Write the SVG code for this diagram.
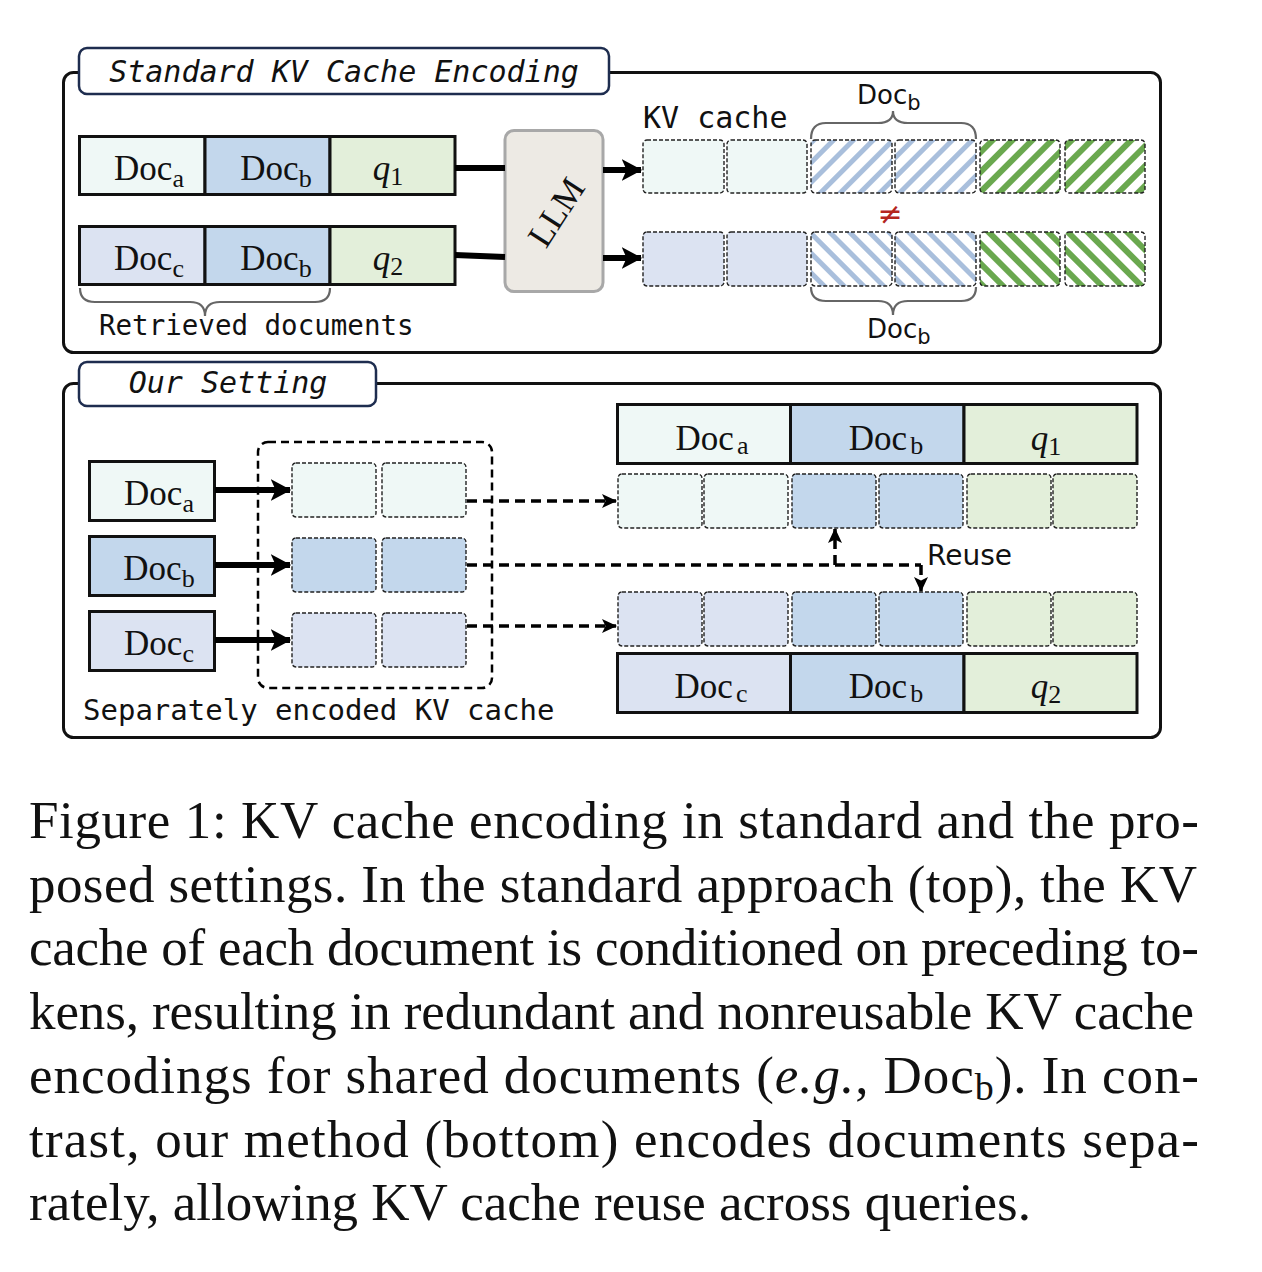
<svg xmlns="http://www.w3.org/2000/svg" width="1262" height="1272" viewBox="0 0 1262 1272">
<style>
.panel{fill:none;stroke:#111;stroke-width:3}
.title{fill:#fff;stroke:#1e2d4f;stroke-width:2.5}
.ttl{font-family:"DejaVu Sans Mono",monospace;font-style:oblique;font-size:30px;fill:#111;text-anchor:middle}
.mono{font-family:"DejaVu Sans Mono",monospace;fill:#111}
.sans{font-family:"DejaVu Sans",sans-serif;fill:#111}
.box{stroke:#111;stroke-width:3}
.doc{font-family:"Liberation Serif",serif;font-size:35px;fill:#111;text-anchor:middle}
.sub{font-size:26px}
.cell{stroke:#222;stroke-width:1.4;stroke-dasharray:4 2}
.fa{fill:#eff8f6}.fb{fill:#c3d7ec}.fc{fill:#dce3f2}.fq{fill:#e3efda}
.brace{fill:none;stroke:#666;stroke-width:2.2}
.thick{stroke:#000;stroke-width:6;fill:none}
.dash{stroke:#000;stroke-width:3.5;stroke-dasharray:10 6;fill:none}
.cap{font-family:"Liberation Serif",serif;font-size:53px;fill:#111}
</style>
<defs>
<pattern id="hbu" width="14" height="14" patternUnits="userSpaceOnUse" patternTransform="rotate(45)"><rect width="14" height="14" fill="#fff"/><rect width="5" height="14" fill="#a9bfdc"/></pattern>
<pattern id="hbd" width="14" height="14" patternUnits="userSpaceOnUse" patternTransform="rotate(-45)"><rect width="14" height="14" fill="#fff"/><rect width="5" height="14" fill="#a9bfdc"/></pattern>
<pattern id="hgu" width="14" height="14" patternUnits="userSpaceOnUse" patternTransform="rotate(45)"><rect width="14" height="14" fill="#fff"/><rect width="6" height="14" fill="#6aa84f"/></pattern>
<pattern id="hgd" width="14" height="14" patternUnits="userSpaceOnUse" patternTransform="rotate(-45)"><rect width="14" height="14" fill="#fff"/><rect width="6" height="14" fill="#6aa84f"/></pattern>
<marker id="ah" markerWidth="4" markerHeight="4" refX="3.2" refY="2" orient="auto" markerUnits="strokeWidth"><path d="M0,0.2 L3.4,2 L0,3.8 L0.8,2 Z" fill="#000"/></marker>
<marker id="ahs" markerWidth="5" markerHeight="5" refX="4" refY="2.5" orient="auto" markerUnits="strokeWidth"><path d="M0,0.5 L4.3,2.5 L0,4.5 L1,2.5 Z" fill="#000"/></marker>
</defs>

<!-- Top panel -->
<g id="panel-standard">
<rect class="panel" x="63.5" y="72.5" width="1097" height="280" rx="10"/>
</g>
<g id="title-standard">
<rect class="title" x="79" y="48" width="530" height="46" rx="8"/>
<text class="ttl" x="344" y="82">Standard KV Cache Encoding</text>
</g>

<g id="input-row1">
<rect class="box fa" x="79.5" y="136.5" width="125.5" height="58"/>
<rect class="box fb" x="205" y="136.5" width="125" height="58"/>
<rect class="box fq" x="330" y="136.5" width="125" height="58"/>
<text class="doc" x="149" y="180">Doc<tspan class="sub" dy="7">a</tspan></text>
<text class="doc" x="276" y="180">Doc<tspan class="sub" dy="7">b</tspan></text>
<text class="doc" x="388" y="180"><tspan font-style="italic">q</tspan><tspan class="sub" dy="5">1</tspan></text>
</g>
<g id="input-row2">
<rect class="box fc" x="79.5" y="226.5" width="125.5" height="58"/>
<rect class="box fb" x="205" y="226.5" width="125" height="58"/>
<rect class="box fq" x="330" y="226.5" width="125" height="58"/>
<text class="doc" x="149" y="270">Doc<tspan class="sub" dy="7">c</tspan></text>
<text class="doc" x="276" y="270">Doc<tspan class="sub" dy="7">b</tspan></text>
<text class="doc" x="388" y="270"><tspan font-style="italic">q</tspan><tspan class="sub" dy="5">2</tspan></text>
</g>
<g id="retrieved-brace">
<path class="brace" d="M80,288 Q80,302 95,302 L190,302 Q205,302 205,316 Q205,302 220,302 L315,302 Q330,302 330,288"/>
<text class="mono" x="99" y="335" font-size="27.5">Retrieved documents</text>
</g>

<g id="llm">
<rect x="505" y="130.5" width="98" height="161" rx="9" fill="#edeae4" stroke="#a8a8a8" stroke-width="3"/>
<text class="doc" font-size="39" transform="translate(556,212) rotate(-57)" y="12">LLM</text>
</g>

<g id="kv-label">
<text class="mono" x="643" y="128" font-size="30">KV cache</text>
</g>
<g id="kv-row1">
<rect class="cell fa" x="643" y="140" width="81" height="53" rx="4"/>
<rect class="cell fa" x="727" y="140" width="80" height="53" rx="4"/>
<rect class="cell" fill="url(#hbu)" x="811" y="140" width="81" height="53" rx="4"/>
<rect class="cell" fill="url(#hbu)" x="895" y="140" width="81" height="53" rx="4"/>
<rect class="cell" fill="url(#hgu)" x="980" y="140" width="80" height="53" rx="4"/>
<rect class="cell" fill="url(#hgu)" x="1065" y="140" width="80" height="53" rx="4"/>
</g>
<g id="kv-row2">
<rect class="cell fc" x="643" y="232" width="81" height="54" rx="4"/>
<rect class="cell fc" x="727" y="232" width="80" height="54" rx="4"/>
<rect class="cell" fill="url(#hbd)" x="811" y="232" width="81" height="54" rx="4"/>
<rect class="cell" fill="url(#hbd)" x="895" y="232" width="81" height="54" rx="4"/>
<rect class="cell" fill="url(#hgd)" x="980" y="232" width="80" height="54" rx="4"/>
<rect class="cell" fill="url(#hgd)" x="1065" y="232" width="80" height="54" rx="4"/>
</g>
<g id="docb-top">
<path class="brace" d="M811,139 Q811,123 826,123 L878,123 Q893,123 893,111 Q893,123 908,123 L961,123 Q976,123 976,139"/>
<text class="sans" x="857" y="104" font-size="26">Doc<tspan font-size="21" dy="6">b</tspan></text>
</g>
<g id="neq">
<text x="890" y="224" font-family="DejaVu Sans,sans-serif" font-size="30" fill="#b5261e" text-anchor="middle">≠</text>
</g>
<g id="docb-bottom">
<path class="brace" d="M811,287 Q811,301 826,301 L878,301 Q893,301 893,315 Q893,301 908,301 L961,301 Q976,301 976,287"/>
<text class="sans" x="867" y="338" font-size="26">Doc<tspan font-size="21" dy="6">b</tspan></text>
</g>

<!-- Bottom panel -->
<g id="panel-ours">
<rect class="panel" x="63.5" y="383.5" width="1097" height="354" rx="10"/>
</g>
<g id="title-ours">
<rect class="title" x="79" y="362" width="297" height="44" rx="8"/>
<text class="ttl" x="228" y="393">Our Setting</text>
</g>

<g id="src-docs">
<rect class="box fa" x="89.5" y="461.5" width="125" height="59"/>
<rect class="box fb" x="89.5" y="536.5" width="125" height="59"/>
<rect class="box fc" x="89.5" y="611.5" width="125" height="59"/>
<text class="doc" x="159" y="505">Doc<tspan class="sub" dy="7">a</tspan></text>
<text class="doc" x="159" y="580">Doc<tspan class="sub" dy="7">b</tspan></text>
<text class="doc" x="159" y="655">Doc<tspan class="sub" dy="7">c</tspan></text>
</g>
<g id="sep-cache">
<rect x="258" y="442" width="234" height="246" rx="10" fill="none" stroke="#000" stroke-width="2.5" stroke-dasharray="8 5"/>
<rect class="cell fa" x="292" y="463" width="84" height="54" rx="4"/>
<rect class="cell fa" x="382" y="463" width="84" height="54" rx="4"/>
<rect class="cell fb" x="292" y="538" width="84" height="54" rx="4"/>
<rect class="cell fb" x="382" y="538" width="84" height="54" rx="4"/>
<rect class="cell fc" x="292" y="613" width="84" height="54" rx="4"/>
<rect class="cell fc" x="382" y="613" width="84" height="54" rx="4"/>
<text class="mono" x="83" y="720" font-size="29">Separately encoded KV cache</text>
</g>

<g id="query1-seq">
<rect class="box fa" x="617.5" y="404.5" width="173" height="59"/>
<rect class="box fb" x="790.5" y="404.5" width="173.5" height="59"/>
<rect class="box fq" x="964" y="404.5" width="173" height="59"/>
<text class="doc" x="712" y="450">Doc<tspan class="sub" dx="3" dy="4">a</tspan></text>
<text class="doc" x="886" y="450">Doc<tspan class="sub" dx="3" dy="4">b</tspan></text>
<text class="doc" x="1046" y="450"><tspan font-style="italic">q</tspan><tspan class="sub" dy="5">1</tspan></text>
</g>
<g id="query1-kv">
<rect class="cell fa" x="618" y="474" width="84" height="54" rx="4"/>
<rect class="cell fa" x="704" y="474" width="84" height="54" rx="4"/>
<rect class="cell fb" x="792" y="474" width="84" height="54" rx="4"/>
<rect class="cell fb" x="879" y="474" width="84" height="54" rx="4"/>
<rect class="cell fq" x="967" y="474" width="84" height="54" rx="4"/>
<rect class="cell fq" x="1053" y="474" width="84" height="54" rx="4"/>
</g>
<g id="query2-kv">
<rect class="cell fc" x="618" y="592" width="84" height="54" rx="4"/>
<rect class="cell fc" x="704" y="592" width="84" height="54" rx="4"/>
<rect class="cell fb" x="792" y="592" width="84" height="54" rx="4"/>
<rect class="cell fb" x="879" y="592" width="84" height="54" rx="4"/>
<rect class="cell fq" x="967" y="592" width="84" height="54" rx="4"/>
<rect class="cell fq" x="1053" y="592" width="84" height="54" rx="4"/>
</g>
<g id="query2-seq">
<rect class="box fc" x="617.5" y="653.5" width="173" height="59"/>
<rect class="box fb" x="790.5" y="653.5" width="173.5" height="59"/>
<rect class="box fq" x="964" y="653.5" width="173" height="59"/>
<text class="doc" x="711" y="698">Doc<tspan class="sub" dx="3" dy="4">c</tspan></text>
<text class="doc" x="886" y="698">Doc<tspan class="sub" dx="3" dy="4">b</tspan></text>
<text class="doc" x="1046" y="698"><tspan font-style="italic">q</tspan><tspan class="sub" dy="5">2</tspan></text>
</g>
<g id="reuse-label">
<text class="sans" x="927" y="565" font-size="28">Reuse</text>
</g>

<!-- Connectors -->
<g id="connectors">
<path class="thick" stroke-width="7" d="M455,168 L505,168"/>
<path class="thick" stroke-width="7" d="M455,255 L505,257"/>
<path class="thick" d="M603,170 L641,170" marker-end="url(#ah)"/>
<path class="thick" d="M603,258 L641,258" marker-end="url(#ah)"/>
<path class="thick" stroke-width="5" d="M215,490 L290,490" marker-end="url(#ah)"/>
<path class="thick" stroke-width="5" d="M215,565 L290,565" marker-end="url(#ah)"/>
<path class="thick" stroke-width="5" d="M215,640 L290,640" marker-end="url(#ah)"/>
<path class="dash" d="M467,501 L616,501" marker-end="url(#ahs)"/>
<path class="dash" d="M467,626 L616,626" marker-end="url(#ahs)"/>
<path class="dash" d="M467,565 L921,565"/>
<path class="dash" stroke-dasharray="none" d="M835,565 L835,529" marker-end="url(#ahs)"/>
<path class="dash" stroke-dasharray="none" d="M921,565 L921,591" marker-end="url(#ahs)"/>
</g>

<!-- Caption -->
<g id="caption">
<text class="cap" x="29" y="838" textLength="1170" lengthAdjust="spacing">Figure 1: KV cache encoding in standard and the pro-</text>
<text class="cap" x="29" y="902" textLength="1168" lengthAdjust="spacing">posed settings. In the standard approach (top), the KV</text>
<text class="cap" x="29" y="965" textLength="1170" lengthAdjust="spacing">cache of each document is conditioned on preceding to-</text>
<text class="cap" x="29" y="1029" textLength="1165" lengthAdjust="spacing">kens, resulting in redundant and nonreusable KV cache</text>
<text class="cap" x="29" y="1093" textLength="1170" lengthAdjust="spacing">encodings for shared documents (<tspan font-style="italic">e.g.</tspan>, Doc<tspan font-size="38" dy="7">b</tspan><tspan dy="-7">). In con-</tspan></text>
<text class="cap" x="29" y="1157" textLength="1170" lengthAdjust="spacing">trast, our method (bottom) encodes documents sepa-</text>
<text class="cap" x="29" y="1220" textLength="1002" lengthAdjust="spacing">rately, allowing KV cache reuse across queries.</text>
</g>
</svg>
